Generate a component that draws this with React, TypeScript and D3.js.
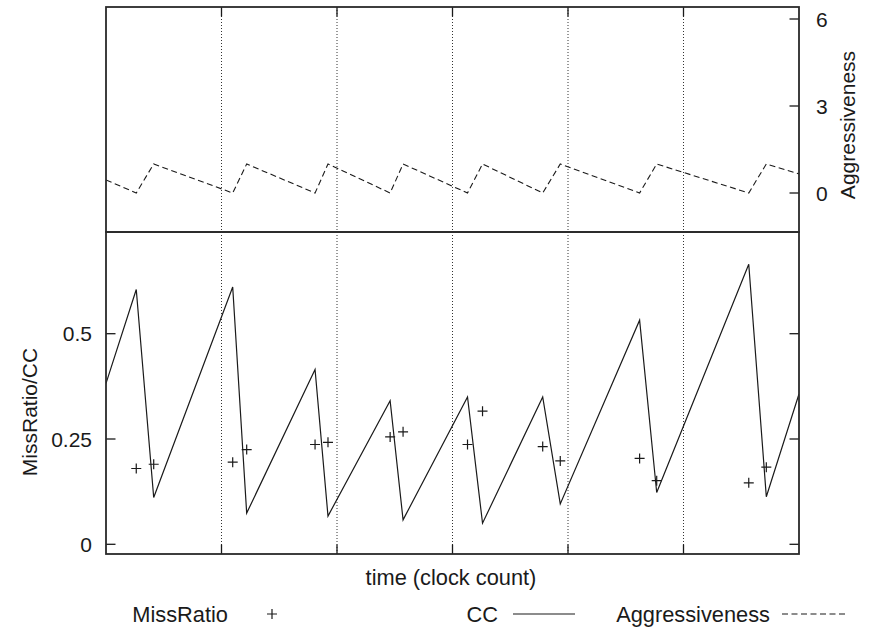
import React, { useEffect, useRef } from 'react';
import * as d3 from 'd3';

// event times (x, in grid units of 10) where CC peaks / drops
const eventTimes = [2.62, 4.13, 10.97, 12.18, 18.1, 19.22, 24.6, 25.72, 31.3, 32.6, 37.81, 39.33, 46.2, 47.68, 55.65, 57.17];
const ccStart = 0.382;
const ccEnd = 0.357;
const ccValues = [0.605, 0.111, 0.611, 0.074, 0.415, 0.067, 0.341, 0.058, 0.35, 0.05, 0.35, 0.096, 0.532, 0.123, 0.665, 0.113];
const missRatio = [0.18, 0.19, 0.195, 0.225, 0.237, 0.242, 0.255, 0.267, 0.237, 0.316, 0.232, 0.198, 0.204, 0.151, 0.146, 0.183];
const aggrStart = 0.45;
const aggrEnd = 0.66;
const aggressiveness = [0, 1, 0, 1, 0, 1, 0, 1, 0, 1, 0, 1, 0, 1, 0, 1];

const xTicks = [10, 20, 30, 40, 50];
const aggrTicks = [0, 3, 6];
const ccTicks = [0, 0.25, 0.5];
const legendLabels = ['MissRatio', 'CC', 'Aggressiveness'];

const W = 870;
const H = 628;
const FONT = '"Liberation Sans", Arial, Helvetica, sans-serif';
const INK = '#1a1a1a';

const App = () => {
  const ref = useRef<SVGSVGElement>(null);

  useEffect(() => {
    drawChart();
  }, []);

  function drawChart() {
    const svg = d3.select(ref.current);
    svg.selectAll('*').remove();

    const left = 106, right = 799, top = 7, mid = 232, bottom = 554;
    const x = d3.scaleLinear().domain([0, 60]).range([left, right]);
    const yA = d3.scaleLinear().domain([0, 6]).range([193, 19]);
    const yC = d3.scaleLinear().domain([0, 0.5]).range([544.3, 333.7]);
    const tick = 9.5;

    const defs = svg.append('defs');
    defs.append('clipPath').attr('id', 'clipTop')
      .append('rect').attr('x', left).attr('y', top).attr('width', right - left).attr('height', mid - top);
    defs.append('clipPath').attr('id', 'clipBot')
      .append('rect').attr('x', left).attr('y', mid).attr('width', right - left).attr('height', bottom - mid);

    // dotted grid
    svg.append('g')
      .selectAll('line')
      .data(xTicks)
      .enter()
      .append('line')
      .attr('x1', (d) => x(d)).attr('x2', (d) => x(d))
      .attr('y1', top).attr('y2', bottom)
      .style('stroke', '#333')
      .style('stroke-width', 1)
      .style('stroke-dasharray', '1,2');

    // x ticks: top edge of upper panel, bottom edge of lower panel
    const xt = svg.append('g').style('stroke', INK).style('stroke-width', 1.3);
    xTicks.forEach((t) => {
      xt.append('line').attr('x1', x(t)).attr('x2', x(t)).attr('y1', top).attr('y2', top + tick);
      xt.append('line').attr('x1', x(t)).attr('x2', x(t)).attr('y1', bottom).attr('y2', bottom - tick);
    });

    // right axis ticks (upper panel)
    aggrTicks.forEach((t) => {
      xt.append('line').attr('x1', right).attr('x2', right - tick).attr('y1', yA(t)).attr('y2', yA(t));
    });
    // left + mirrored right ticks (lower panel)
    ccTicks.forEach((t) => {
      xt.append('line').attr('x1', left).attr('x2', left + tick).attr('y1', yC(t)).attr('y2', yC(t));
      xt.append('line').attr('x1', right).attr('x2', right - tick).attr('y1', yC(t)).attr('y2', yC(t));
    });

    // aggressiveness series
    const aggrPts: [number, number][] = [[0, aggrStart]];
    eventTimes.forEach((t, i) => aggrPts.push([t, aggressiveness[i]]));
    aggrPts.push([60, aggrEnd]);

    const ccPts: [number, number][] = [[0, ccStart]];
    eventTimes.forEach((t, i) => ccPts.push([t, ccValues[i]]));
    ccPts.push([60, ccEnd]);

    svg.append('path')
      .attr('clip-path', 'url(#clipTop)')
      .attr('d', d3.line<[number, number]>().x((d) => x(d[0])).y((d) => yA(d[1]))(aggrPts))
      .style('fill', 'none')
      .style('stroke', INK)
      .style('stroke-width', 1.1)
      .style('stroke-dasharray', '6,3.5');

    svg.append('path')
      .attr('clip-path', 'url(#clipBot)')
      .attr('d', d3.line<[number, number]>().x((d) => x(d[0])).y((d) => yC(d[1]))(ccPts))
      .style('fill', 'none')
      .style('stroke', INK)
      .style('stroke-width', 1.2);

    const plus = 'M-5,0H5M0,-5V5';
    svg.append('g')
      .selectAll('path')
      .data(eventTimes.map((t, i) => [t, missRatio[i]]))
      .enter()
      .append('path')
      .attr('d', plus)
      .attr('transform', (d) => `translate(${x(d[0])},${yC(d[1])})`)
      .style('fill', 'none')
      .style('stroke', INK)
      .style('stroke-width', 1.2);

    // frames
    const fr = svg.append('g').style('fill', 'none').style('stroke', '#2a2a2a').style('stroke-width', 1.8);
    fr.append('rect').attr('x', left).attr('y', top).attr('width', right - left).attr('height', mid - top);
    fr.append('rect').attr('x', left).attr('y', mid).attr('width', right - left).attr('height', bottom - mid);

    const txt = svg.append('g').style('font-family', FONT).style('font-size', '21px').style('fill', INK);

    aggrTicks.forEach((t) => {
      txt.append('text').attr('x', 816).attr('y', yA(t)).attr('dy', '0.36em').text(String(t));
    });
    ccTicks.forEach((t) => {
      txt.append('text').attr('x', 92).attr('y', yC(t)).attr('dy', '0.36em')
        .attr('text-anchor', 'end').text(String(t));
    });

    txt.append('text')
      .attr('transform', 'translate(855,125) rotate(-90)')
      .attr('text-anchor', 'middle')
      .text('Aggressiveness');
    txt.append('text')
      .attr('transform', 'translate(37,412) rotate(-90)')
      .attr('text-anchor', 'middle')
      .text('MissRatio/CC');
    txt.append('text')
      .attr('x', 451).attr('y', 585)
      .attr('text-anchor', 'middle')
      .style('font-size', '21.8px')
      .text('time (clock count)');

    // legend
    const legendEnds = [228, 498, 770];
    const legY = 622;
    legendLabels.forEach((l, i) => {
      txt.append('text').attr('x', legendEnds[i]).attr('y', legY)
        .attr('text-anchor', 'end').style('font-size', '21.8px').text(l);
    });
    const lg = svg.append('g').style('fill', 'none').style('stroke', INK).style('stroke-width', 1.2);
    lg.append('path').attr('d', plus).attr('transform', `translate(272,614)`);
    lg.append('line').attr('x1', 513).attr('x2', 575).attr('y1', 614).attr('y2', 614);
    lg.append('line').attr('x1', 782).attr('x2', 847).attr('y1', 614).attr('y2', 614)
      .style('stroke-width', 1.1).style('stroke-dasharray', '6,3.5');
  }

  return (
    <svg ref={ref} width={W} height={H}
      style={{ position: 'absolute', left: 0, top: 0, background: '#fff' }} />
  );
};

export default App;
